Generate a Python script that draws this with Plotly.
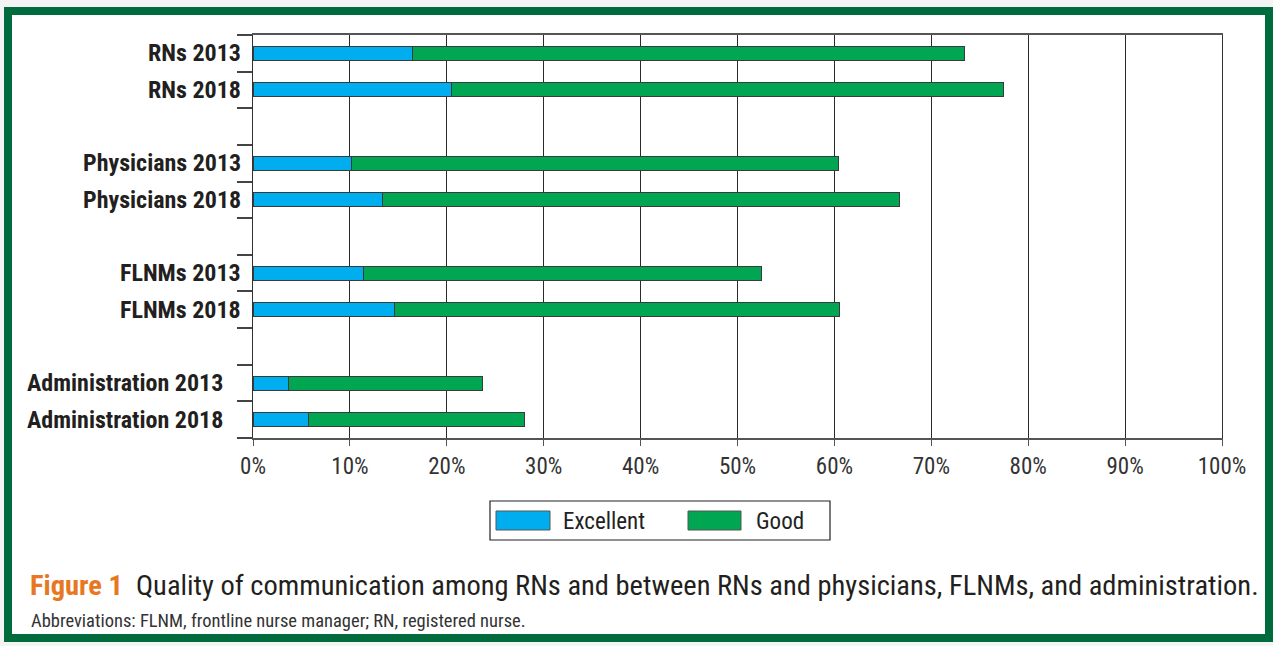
import plotly.graph_objects as go

categories = ["RNs 2013", "RNs 2018", " ", "Physicians 2013", "Physicians 2018", "  ",
              "FLNMs 2013", "FLNMs 2018", "   ", "Administration 2013", "Administration 2018"]
excellent = [16.5, 20.5, None, 10.2, 13.4, None, 11.4, 14.6, None, 3.7, 5.7]
good = [56.9, 56.9, None, 50.2, 53.3, None, 41.1, 45.9, None, 20.0, 22.3]
series_names = ["Excellent", "Good"]
series_colors = ["#00AEEF", "#00A651"]
x_ticks = list(range(0, 101, 10))
x_ticklabels = [f"{v}%" for v in x_ticks]

FONT = "Roboto Condensed, Liberation Sans Narrow, sans-serif"
W, H = 1273, 646
PL, PR, PT, PB = 253, 1222, 35, 438


def px(x):
    return (x - PL) / (PR - PL)


def py(y):
    return (PB - y) / (PB - PT)


fig = go.Figure()
for name, vals, col in zip(series_names, [excellent, good], series_colors):
    fig.add_trace(go.Bar(
        y=categories, x=vals, name=name, orientation="h", width=0.38,
        marker=dict(color=col, line=dict(color="#3a3a3a", width=1)),
        showlegend=False,
    ))

# invisible trace to carry the boundary tick marks on the left
fig.add_trace(go.Scatter(x=[None], y=[None], yaxis="y2", showlegend=False))

shapes = []
# outer frame
shapes.append(dict(type="rect", xref="paper", yref="paper",
                   x0=px(8), x1=px(1269), y0=py(11), y1=py(638),
                   line=dict(color="#006B3C", width=8), fillcolor="white", layer="below"))
# legend box
shapes.append(dict(type="rect", xref="paper", yref="paper",
                   x0=px(490), x1=px(830), y0=py(501), y1=py(540),
                   line=dict(color="#222", width=1.2), fillcolor="white"))
annotations = []
leg_x = [(496, 550, 561), (688, 741, 754)]
for (s0, s1, tx), name, col in zip(leg_x, series_names, series_colors):
    shapes.append(dict(type="rect", xref="paper", yref="paper",
                       x0=px(s0), x1=px(s1), y0=py(511), y1=py(530),
                       line=dict(color="#555", width=1), fillcolor=col))
    annotations.append(dict(xref="paper", yref="paper", x=px(tx), y=py(521),
                            xanchor="left", yanchor="middle", showarrow=False,
                            text=name, font=dict(family=FONT, size=23, color="#222")))

# category labels
for c in categories:
    if c.strip():
        xr = 225 if c.startswith("Administration") else 243
        annotations.append(dict(xref="paper", yref="y", x=px(xr), y=c,
                                xanchor="right", yanchor="middle", showarrow=False,
                                text="<b>" + c + "</b>",
                                font=dict(family=FONT, size=24, color="#231F20")))

annotations.append(dict(xref="paper", yref="paper", x=px(28), y=py(585),
                        xanchor="left", yanchor="middle", showarrow=False,
                        text="<b><span style='color:#E87722'>Figure 1</span></b>\u00a0\u00a0Quality of communication among RNs and between RNs and physicians, FLNMs, and administration.",
                        font=dict(family=FONT, size=28.5, color="#231F20")))
annotations.append(dict(xref="paper", yref="paper", x=px(29), y=py(621),
                        xanchor="left", yanchor="middle", showarrow=False,
                        text="Abbreviations: FLNM, frontline nurse manager; RN, registered nurse.",
                        font=dict(family=FONT, size=18.5, color="#333")))

fig.update_layout(
    width=W, height=H,
    margin=dict(l=PL, r=W - PR, t=PT, b=H - PB, pad=0),
    paper_bgcolor="#f4f4f4", plot_bgcolor="rgba(0,0,0,0)",
    barmode="stack", bargap=0.6,
    shapes=shapes, annotations=annotations,
    xaxis=dict(range=[0, 100], tickmode="array", tickvals=x_ticks, ticktext=x_ticklabels,
               showgrid=True, gridcolor="#2b2b2b", gridwidth=1, zeroline=False,
               showline=True, linecolor="#555", linewidth=2, mirror=True,
               ticks="outside", ticklen=6, tickcolor="#555",
               tickfont=dict(family=FONT, size=23, color="#333")),
    yaxis=dict(type="category", categoryorder="array", categoryarray=categories,
               range=[10.5, -0.5], showticklabels=False, showgrid=False,
               showline=True, linecolor="#333", linewidth=1, mirror=True, ticks=""),
    yaxis2=dict(overlaying="y", anchor="x", side="left", range=[10.5, -0.5],
                tickvals=[i - 0.5 for i in range(len(categories) + 1)],
                ticks="outside", ticklen=15, tickcolor="#444", tickwidth=1.5,
                showticklabels=False, showgrid=False, zeroline=False, showline=False),
)

fig.write_html("out.html", post_script="document.body.style.margin='0';",
               config={"displayModeBar": False})
